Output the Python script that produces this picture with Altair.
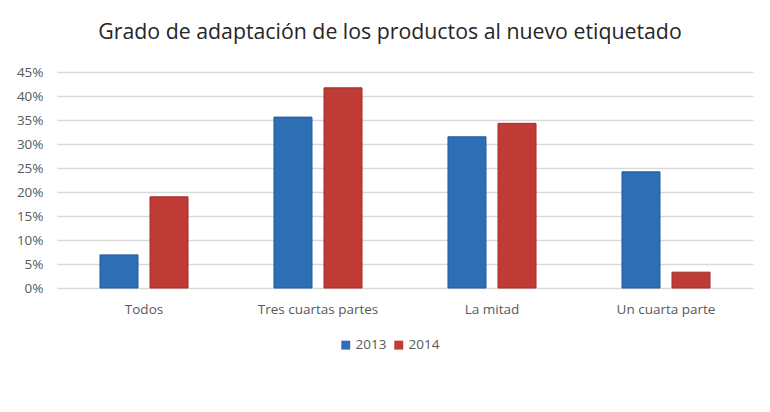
import altair as alt
import pandas as pd

categories = ["Todos", "Tres cuartas partes", "La mitad", "Un cuarta parte"]
years = ["2013", "2014"]
values_2013 = [0.069, 0.356, 0.315, 0.242]
values_2014 = [0.190, 0.417, 0.343, 0.033]

rows = []
for c, v in zip(categories, values_2013):
    rows.append({"cat": c, "year": "2013", "value": v})
for c, v in zip(categories, values_2014):
    rows.append({"cat": c, "year": "2014", "value": v})
df = pd.DataFrame(rows)

font = "Open Sans"

chart = alt.Chart(df).mark_bar(strokeWidth=1).encode(
    x=alt.X("cat:N", sort=categories, title=None,
            scale=alt.Scale(paddingInner=0.494, paddingOuter=0.247),
            axis=alt.Axis(labelAngle=0, labelFontSize=13.5, labelColor="#595959",
                          labelFont=font, ticks=False, domain=False, labelPadding=14)),
    xOffset=alt.XOffset("year:N", scale=alt.Scale(paddingInner=0.24, paddingOuter=0)),
    y=alt.Y("value:Q", title=None,
            scale=alt.Scale(domain=[0, 0.45], nice=False),
            axis=alt.Axis(format=".0%", values=[i * 0.05 for i in range(10)],
                          labelFontSize=13.5, labelColor="#595959", labelFont=font,
                          ticks=False, domain=False, gridColor="#D9D9D9",
                          gridWidth=1.5, labelPadding=14)),
    color=alt.Color("year:N", scale=alt.Scale(domain=years, range=["#2E6EB5", "#BE3B36"]),
                    legend=alt.Legend(title=None, orient="none", direction="horizontal",
                                      legendX=282, legendY=266, symbolType="square",
                                      symbolSize=80, labelFontSize=13.5, labelColor="#595959",
                                      labelFont=font, columnPadding=5, labelOffset=3,
                                      symbolStrokeWidth=0)),
    stroke=alt.Stroke("year:N", scale=alt.Scale(domain=years, range=["#1F5C9E", "#A52E2A"]),
                      legend=None),
).properties(
    width=696,
    height=216,
    autosize=alt.AutoSizeParams(type="none"),
    padding={"left": 49, "top": 64, "right": 5, "bottom": 100},
    title=alt.TitleParams("Grado de adaptación de los productos al nuevo etiquetado",
                          fontSize=21.3, font=font, fontWeight="normal", color="#262626",
                          anchor="middle", dx=-15, offset=22),
).configure_view(stroke=None)

chart.save("out.html", embed_options={"renderer": "svg", "actions": False})
